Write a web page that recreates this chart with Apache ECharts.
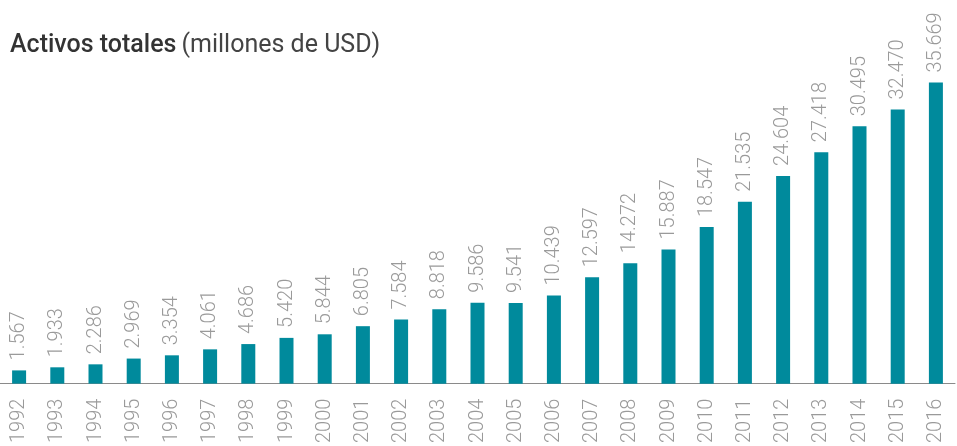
<!doctype html>
<html lang="es">
<head>
<meta charset="UTF-8">
<title>Activos totales</title>
<script src="https://cdn.jsdelivr.net/npm/echarts@6/dist/echarts.min.js"></script>
<style>
  html, body { margin: 0; padding: 0; background: #fff; }
  #main { width: 957px; height: 446px; }
</style>
</head>
<body>
<div id="main"></div>
<script>
    // datos
    var years = ['1992', '1993', '1994', '1995', '1996', '1997', '1998', '1999', '2000',
        '2001', '2002', '2003', '2004', '2005', '2006', '2007', '2008', '2009', '2010',
        '2011', '2012', '2013', '2014', '2015', '2016'];
    var assets = [1567, 1933, 2286, 2969, 3354, 4061, 4686, 5420, 5844, 6805, 7584, 8818,
        9586, 9541, 10439, 12597, 14272, 15887, 18547, 21535, 24604, 27418, 30495, 32470, 35669];

    // separador de miles con punto
    function fmt(v) {
        return String(v).replace(/\B(?=(\d{3})+(?!\d))/g, '.');
    }

    var myChart = echarts.init(document.getElementById('main'));
    myChart.setOption({
        animation: false,
        title: {
            left: 5,
            top: 28,
            text: '{b|Activos totales} {n|(millones de USD)}',
            textStyle: {
                rich: {
                    b: { fontFamily: 'Roboto', fontSize: 25, fontWeight: 500, color: '#333' },
                    n: { fontFamily: 'Roboto', fontSize: 25, fontWeight: 400, color: '#444' }
                }
            }
        },
        grid: {
            left: -2,
            right: 2,
            top: 46,
            bottom: 61,
            containLabel: false
        },
        xAxis: {
            type: 'category',
            data: years,
            axisLine: { lineStyle: { color: '#8a8a8a', width: 1 } },
            axisTick: { show: false },
            axisLabel: {
                rotate: 90,
                interval: 0,
                margin: 15,
                color: '#9a9a9a',
                fontFamily: 'Roboto',
                fontWeight: 300,
                fontSize: 20
            }
        },
        yAxis: {
            type: 'value',
            min: 0,
            max: 40000,
            show: false,
            splitLine: { show: false }
        },
        series: [{
            type: 'bar',
            data: assets,
            barWidth: 14,
            itemStyle: { color: '#008a9c' },
            label: {
                show: true,
                position: 'top',
                rotate: 90,
                align: 'left',
                verticalAlign: 'middle',
                distance: 10,
                color: '#9a9a9a',
                fontFamily: 'Roboto',
                fontWeight: 300,
                fontSize: 20,
                formatter: function (p) { return fmt(p.value); }
            }
        }]
    });
</script>
</body>
</html>
